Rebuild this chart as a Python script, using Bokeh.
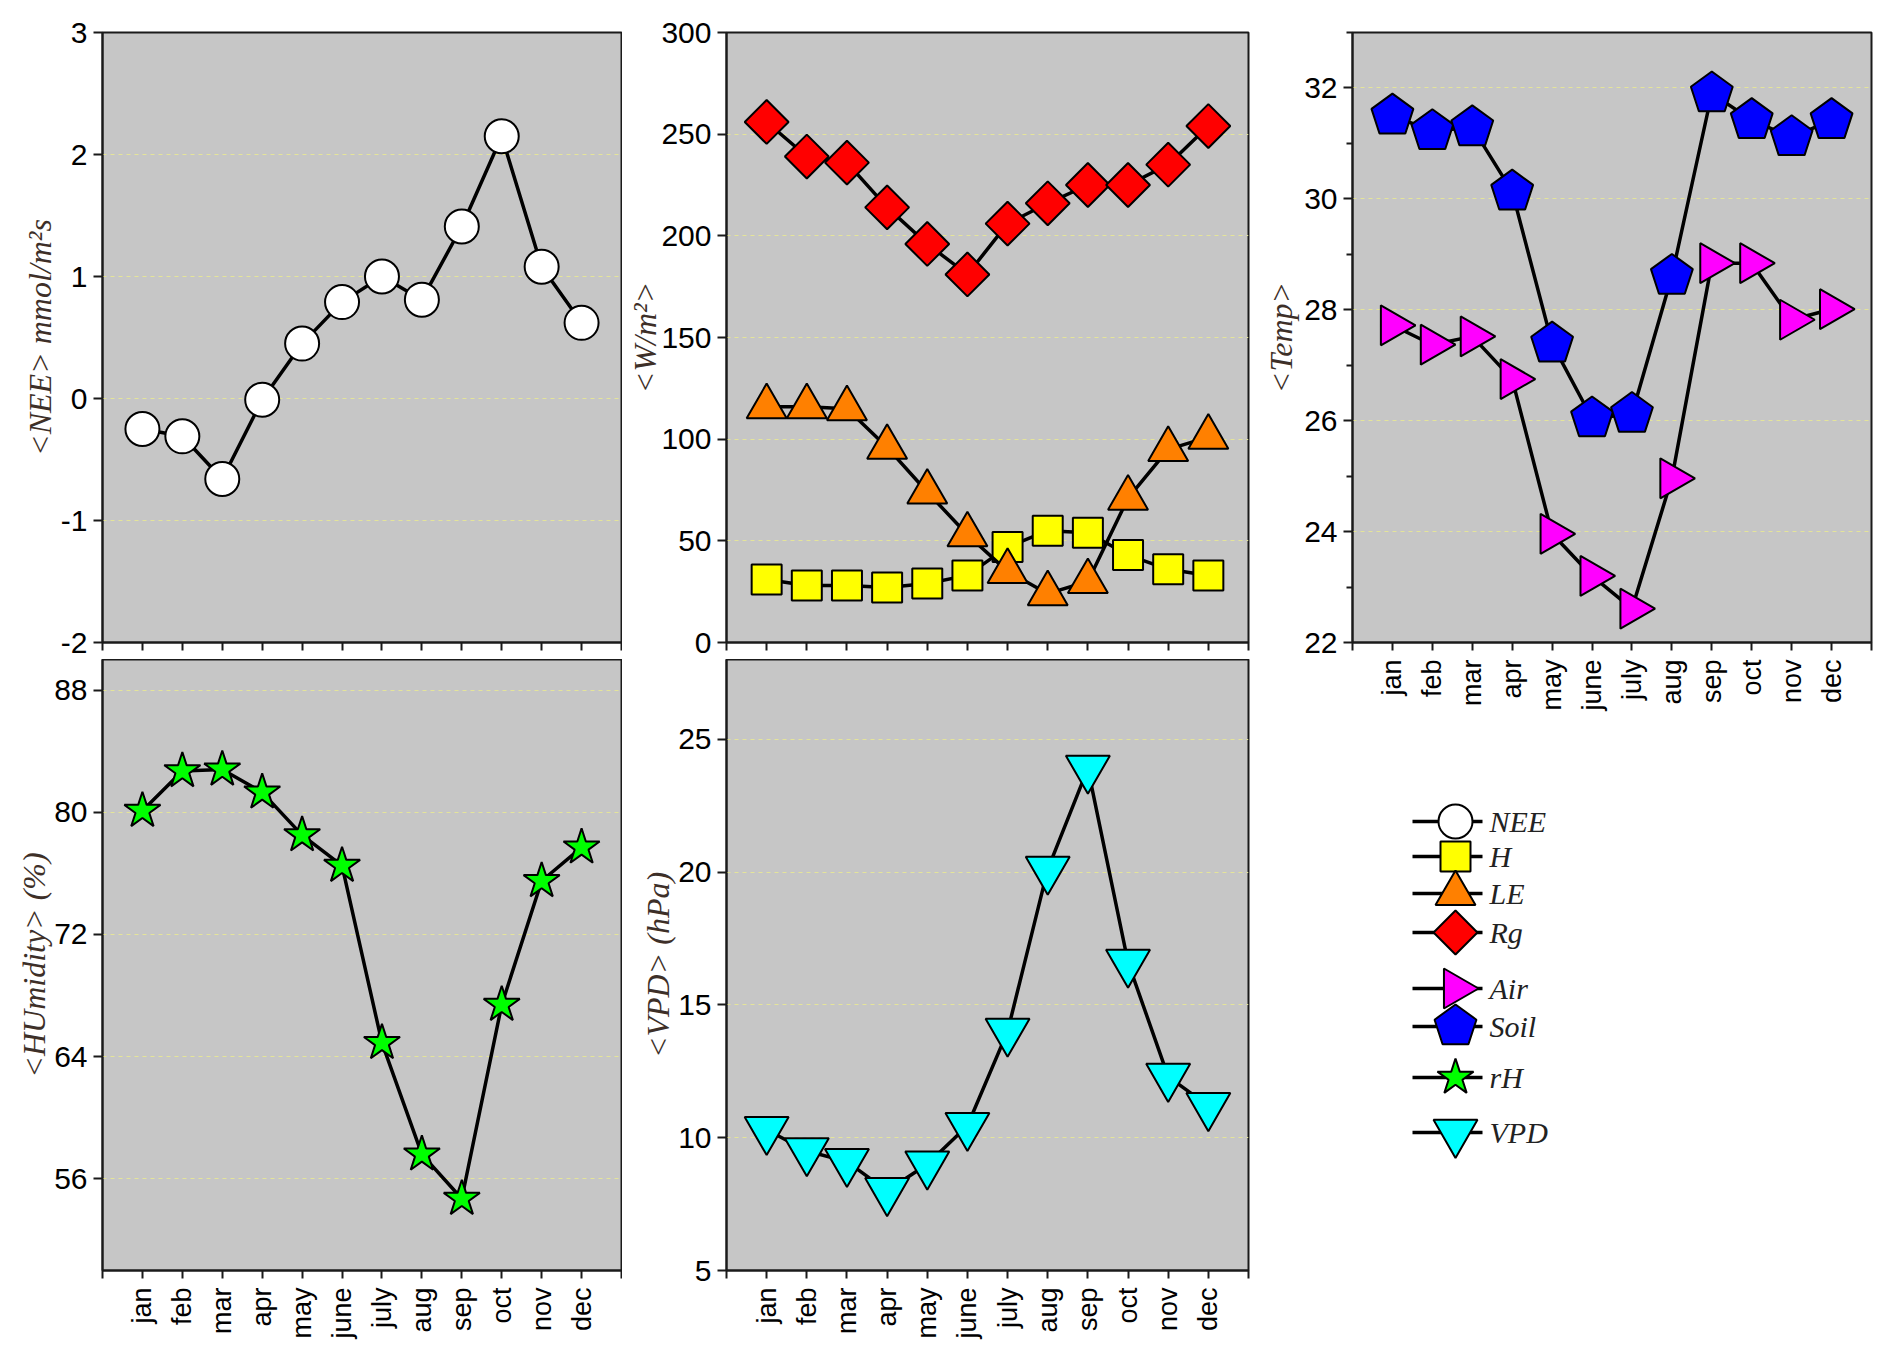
import numpy as np
from bokeh.plotting import figure
from bokeh.models import Range1d, FixedTicker
from bokeh.layouts import row, column
from bokeh.embed import file_html
from bokeh.resources import INLINE
from bokeh.core.properties import value

# monthly means
months = ["jan", "feb", "mar", "apr", "may", "june", "july", "aug", "sep", "oct", "nov", "dec"]
month_x = list(range(1, 13))

nee = [-0.25, -0.31, -0.66, -0.01, 0.45, 0.79, 1.00, 0.81, 1.41, 2.15, 1.08, 0.62]
rg = [256, 239, 236, 214, 196, 181, 206, 216, 225, 225, 235, 254]
le = [116, 116, 115, 96, 74, 53, 35, 24, 30, 71, 95, 101]
h_flux = [31, 28, 28, 27, 29, 33, 47, 55, 54, 43, 36, 33]
t_air = [27.72, 27.37, 27.52, 26.75, 23.96, 23.20, 22.61, 24.96, 28.84, 28.84, 27.82, 28.01]
t_soil = [31.50, 31.22, 31.29, 30.13, 27.39, 26.04, 26.12, 28.61, 31.90, 31.42, 31.11, 31.42]
rh = [80.1, 82.7, 82.8, 81.3, 78.5, 76.5, 64.9, 57.6, 54.7, 67.4, 75.5, 77.7]
vpd = [10.3, 9.5, 9.1, 8.0, 9.0, 10.45, 14.0, 20.1, 23.9, 16.6, 12.3, 11.2]

BG = "#c6c6c6"
GRID = "#e4e49a"
INK = "#1a1a1a"
LABEL = "#3d2f28"
LW = 3.5


def panel(y0, y1, yticks, ylabel, fw, fh, borders, show_months, standoff, yminor=None):
    p = figure(frame_width=fw, frame_height=fh,
               x_range=Range1d(0, 13), y_range=Range1d(y0, y1),
               output_backend="svg", toolbar_location=None, tools="",
               min_border_left=borders[0], min_border_right=borders[1],
               min_border_top=borders[2], min_border_bottom=borders[3])
    p.background_fill_color = BG
    p.outline_line_color = INK
    p.outline_line_width = 2
    p.xgrid.visible = False
    p.ygrid.grid_line_color = GRID
    p.ygrid.grid_line_dash = "4 4"
    p.ygrid.grid_line_width = 1

    p.yaxis.ticker = FixedTicker(ticks=yticks, minor_ticks=yminor or [])
    # plain hyphen for negative tick labels, as in the original
    p.yaxis.major_label_overrides = {t: str(t) for t in yticks}
    p.xaxis.ticker = FixedTicker(ticks=list(range(0, 14)))
    for ax in (p.xaxis, p.yaxis):
        ax.axis_line_color = INK
        ax.axis_line_width = 2
        ax.major_tick_line_color = INK
        ax.major_tick_line_width = 2
        ax.major_tick_in = 0
        ax.minor_tick_line_color = INK
        ax.minor_tick_line_width = 2
        ax.minor_tick_in = 0
        ax.major_label_text_font = "Liberation Sans"
        ax.major_label_text_color = "black"
    p.yaxis.major_tick_out = 9
    p.yaxis.minor_tick_out = 6
    p.yaxis.major_label_standoff = 6
    p.yaxis.major_label_text_font_size = "30px"
    p.yaxis.axis_label = ylabel
    p.yaxis.axis_label_text_font = "Liberation Serif"
    p.yaxis.axis_label_text_font_style = "italic"
    p.yaxis.axis_label_text_font_size = "32px"
    p.yaxis.axis_label_text_color = LABEL
    p.yaxis.axis_label_standoff = standoff

    p.xaxis.major_tick_out = 8
    if show_months:
        labels = {0: "", 13: ""}
        labels.update({x: m for x, m in zip(month_x, months)})
        p.xaxis.major_label_overrides = labels
        p.xaxis.major_label_orientation = np.pi / 2
        p.xaxis.major_label_standoff = 9
        p.xaxis.major_label_text_font_size = "27px"
    else:
        p.xaxis.major_label_overrides = {i: "" for i in range(14)}
        p.xaxis.major_label_standoff = 0
        p.xaxis.major_label_text_font_size = "0px"
    return p


def series(p, ys, marker, size, color, angle=0.0):
    p.line(month_x, ys, line_color="black", line_width=LW)
    p.scatter(month_x, ys, marker=marker, size=size, angle=angle,
              fill_color=color, line_color="black", line_width=2)


def pentagon(xc, yc, r, kx, ky):
    ang = np.deg2rad(90 + 72 * np.arange(5))
    return list(xc + r * np.cos(ang) * kx), list(yc + r * np.sin(ang) * ky)


# top row
p1 = panel(-2, 3, [-2, -1, 0, 1, 2, 3], "<NEE> mmol/m²s", 519, 610,
           (102, 1, 32, 17), False, 0)
series(p1, nee, "circle", 34, "white")

p2 = panel(0, 300, [0, 50, 100, 150, 200, 250, 300], "<W/m²>", 522, 610,
           (104, 6, 32, 17), False, -5)
series(p2, h_flux, "square", 30, "#ffff00")
series(p2, le, "triangle", 40, "#ff8000")
series(p2, rg, "square", 31, "#ff0000", angle=np.pi / 4)

p3 = panel(22, 33, [22, 24, 26, 28, 30, 32], "<Temp>", 519, 610,
           (98, 8, 32, 80), True, 2, yminor=[23, 25, 27, 29, 31, 33])
kx, ky = 13 / 519, 11 / 610
p3.line(month_x, t_soil, line_color="black", line_width=LW)
pxs, pys = [], []
for x, y in zip(month_x, t_soil):
    a, b = pentagon(x, y, 22, kx, ky)
    pxs.append(a)
    pys.append(b)
p3.patches(pxs, pys, fill_color="#0000ff", line_color="black", line_width=2)
series(p3, t_air, "triangle", 40, "#ff00ff", angle=-np.pi / 2)

# bottom row
p4 = panel(50, 90, [56, 64, 72, 80, 88], "<HUmidity> (%)", 519, 611,
           (102, 1, 0, 80), True, -1)
series(p4, rh, "star", 38, "#00ff00")

p5 = panel(5, 28, [5, 10, 15, 20, 25], "<VPD> (hPa)", 522, 611,
           (104, 6, 0, 80), True, -1)
series(p5, vpd, "inverted_triangle", 44, "#00ffff")

# legend drawn in its own pixel-unit figure (frame aligned under p3)
leg = figure(frame_width=519, frame_height=460,
             x_range=Range1d(0, 519), y_range=Range1d(460, 0),
             output_backend="svg", toolbar_location=None, tools="",
             min_border=0, x_axis_location=None, y_axis_location=None)
leg.outline_line_color = None
leg.background_fill_color = None
leg.border_fill_color = None
leg.grid.visible = False

leg_names = ["NEE", "H", "LE", "Rg", "Air", "Soil", "rH", "VPD"]
leg_y = [99, 134, 171, 210, 266, 304, 355, 410]
leg_style = [("circle", 34, "white", 0.0), ("square", 30, "#ffff00", 0.0),
             ("triangle", 40, "#ff8000", 0.0), ("square", 31, "#ff0000", np.pi / 4),
             ("triangle", 40, "#ff00ff", -np.pi / 2), (None, 22, "#0000ff", 0.0),
             ("star", 38, "#00ff00", 0.0), ("inverted_triangle", 44, "#00ffff", 0.0)]
mx = 103
for name, y, (mk, sz, col, ang) in zip(leg_names, leg_y, leg_style):
    leg.segment(x0=[60], y0=[y], x1=[130], y1=[y], line_color="black", line_width=LW)
    if mk is None:
        a, b = pentagon(mx, y, sz, 1, -1)
        leg.patch(a, b, fill_color=col, line_color="black", line_width=2)
    else:
        leg.scatter([mx], [y], marker=mk, size=sz, angle=ang,
                    fill_color=col, line_color="black", line_width=2)
    leg.text([137], [y], text=[name], text_font=value("Liberation Serif"),
             text_font_style="italic", text_font_size="30px",
             text_baseline="middle", text_align="left", text_color="#222222")

layout = row(column(row(p1, p2), row(p4, p5)), column(p3, leg))

open("out.html", "w").write(file_html(layout, INLINE))
